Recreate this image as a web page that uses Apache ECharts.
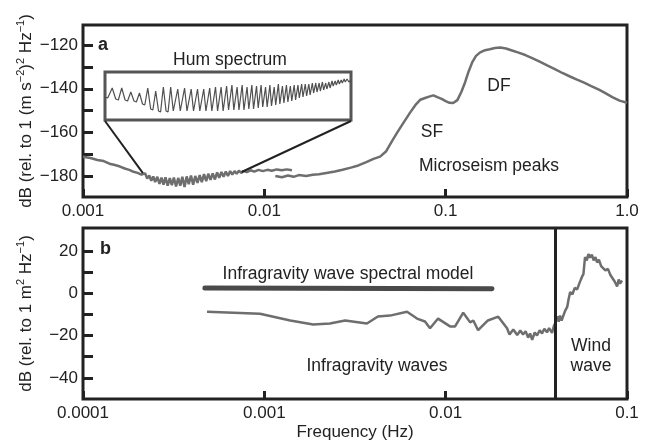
<!DOCTYPE html>
<html>
<head>
<meta charset="utf-8">
<script src="https://cdn.jsdelivr.net/npm/echarts@6/dist/echarts.min.js"></script>
<style>html,body{margin:0;padding:0;background:#fff;}#c{width:652px;height:442px;}</style>
</head>
<body>
<div id="c"></div>
<script>
// ---------- data ----------
const xLabelsA = ['0.001', '0.01', '0.1', '1.0'];
const xLabelsB = ['0.0001', '0.001', '0.01', '0.1'];
const yTicksA = [-180, -170, -160, -150, -140, -130, -120];
const yLabelsA = [-180, -160, -140, -120];
const yTicksB = [-40, -30, -20, -10, 0, 10, 20];
const yLabelsB = [-40, -20, 0, 20];

// panel a, trace 1 (long-period, 0.001 - 0.014 Hz)
const aTrace1Freq = [0.00100,0.00110,0.00120,0.00130,0.00140,0.00150,0.00160,0.00170,0.00180,0.00190,0.00200,0.00210,
  0.00220,0.00226,0.00232,0.00238,0.00244,0.00250,0.00257,0.00264,0.00271,0.00278,0.00285,0.00293,0.00301,0.00309,
  0.00317,0.00326,0.00335,0.00344,0.00353,0.00363,0.00373,0.00383,0.00394,0.00405,0.00416,0.00428,0.00440,0.00452,
  0.00465,0.00478,0.00491,0.00505,0.00519,0.00534,0.00549,0.00564,0.00580,0.00596,0.00613,0.00630,0.00648,0.00666,
  0.00685,0.00704,0.00724,0.00745,0.00770,0.00800,0.00840,0.00880,0.00930,0.00980,0.01040,0.01100,0.01170,0.01250,
  0.01330,0.01420];
const aTrace1Db = [-171.0,-171.6,-172.5,-173.0,-174.2,-174.8,-175.5,-176.4,-177.0,-177.9,-178.4,-179.2,
  -178.6,-181.0,-179.5,-182.0,-180.0,-182.6,-180.2,-183.4,-180.6,-183.8,-180.4,-184.2,-180.8,-184.0,
  -180.5,-184.6,-180.7,-184.2,-180.2,-184.8,-180.0,-183.6,-179.6,-183.8,-179.8,-183.0,-179.4,-182.6,
  -179.0,-182.2,-178.8,-181.6,-178.6,-181.4,-178.2,-180.6,-178.0,-180.2,-177.8,-179.8,-177.6,-179.2,
  -177.6,-178.8,-177.4,-178.4,-177.6,-178.0,-177.2,-177.8,-177.0,-177.6,-177.0,-177.4,-176.8,-177.2,
  -176.8,-177.2];

// panel a, trace 2 (0.0115 - 1 Hz, microseism peaks)
const aTrace2Freq = [0.0115,0.0125,0.0135,0.0145,0.0155,0.0170,0.0185,0.0200,0.0220,0.0245,0.0270,0.0300,0.0330,
  0.0365,0.0400,0.0435,0.0470,0.0505,0.0540,0.0580,0.0635,0.0680,0.0725,0.0770,0.0810,0.0855,0.0900,0.0950,0.1000,
  0.1050,0.1100,0.1160,0.1220,0.1280,0.1340,0.1400,0.1470,0.1550,0.1650,0.1750,0.1870,0.2000,0.2150,0.2300,0.2500,
  0.2750,0.3000,0.3300,0.3650,0.4000,0.4400,0.4850,0.5300,0.5800,0.6350,0.7000,0.7600,0.8300,0.9100,1.0000];
const aTrace2Db = [-179.8,-180.4,-179.6,-180.2,-179.4,-179.8,-179.2,-179.0,-178.4,-177.8,-177.0,-176.0,-175.0,
  -173.5,-172.0,-171.0,-168.5,-164.0,-160.0,-156.0,-151.0,-147.5,-145.0,-144.2,-143.6,-143.0,-143.8,-144.6,-145.6,
  -146.4,-146.5,-145.2,-141.5,-137.0,-132.0,-128.0,-125.0,-123.4,-122.4,-122.0,-121.4,-121.2,-121.6,-122.4,-123.4,
  -124.6,-126.0,-127.6,-129.4,-131.0,-132.8,-134.4,-135.8,-137.2,-138.8,-140.4,-142.0,-143.8,-145.4,-146.4];

// inset: hum spectrum (frequency in mHz, relative level)
const humFreq = [2.10,2.13,
  2.18,2.22,2.25, 2.29,2.33,2.36, 2.40,2.44,2.47, 2.51,2.55,2.58, 2.62,2.66,2.69, 2.73,2.77,2.80,
  2.84,2.88,2.91, 2.95,2.99,3.02, 3.06,3.10,3.13, 3.17,3.21,3.24, 3.28,3.32,3.35, 3.39,3.43,3.46,
  3.50,3.54,3.57, 3.61,3.65,3.68, 3.72,3.76,3.79, 3.83,3.87,3.90, 3.94,3.98,4.01, 4.05,4.09,4.12,
  4.16,4.20,4.23, 4.27,4.31,4.34, 4.38,4.42,4.45, 4.49,4.53,4.56, 4.60,4.64,4.67, 4.71,4.75,4.78,
  4.82,4.86,4.89, 4.93,4.97,5.00, 5.04,5.08,5.11, 5.15,5.19,5.22, 5.26,5.30,5.33, 5.37,5.41,5.44,
  5.48,5.52,5.55, 5.59,5.63,5.66, 5.70,5.74,5.77, 5.81,5.85,5.88, 5.92,5.96,5.99, 6.03,6.07,6.10,
  6.14,6.18,6.21, 6.25,6.29,6.32, 6.36,6.40,6.43, 6.47,6.51,6.54, 6.58,6.62,6.65, 6.69,6.73,6.76,
  6.80,6.84,6.87, 6.91,6.95,6.98, 7.02,7.06,7.09, 7.13,7.17,7.20, 7.24,7.28,7.31, 7.35,7.39,7.42,
  7.50];
const humLevel = [23,22,
  32,21,20, 32,20,19, 28,19,18, 27,16,15, 32,11,10, 29,9,8,
  33,9,8, 33,9,8, 31,9,8, 32,9,8, 31,9,8, 31,9,8,
  31,9,8, 32,9,8, 33,9,8, 33,9,8, 34,10,9, 35,10,9,
  33,10,9, 35,10,9, 33,11,10, 35,11,10, 34,12,11, 35,13,12,
  33,13,12, 35,14,13, 33,15,14, 36,16,15, 34,17,16, 35,18,17,
  34,19,18, 35,20,19, 35,22,21, 36,23,22, 36,24,23, 36,25,24,
  37,27,26, 37,28,27, 37,29,28, 38,30,29, 37,31,30, 38,32,31,
  39,34,33, 39,35,34, 40,36,35, 40,37,36, 41,38,37, 41,39,38,
  40];
const humRange = [2.1, 7.5];
const connectFreq = [0.00214, 0.0075];
const connectDb = [-178.5, -178.0];

// panel b
const bModelFreq = [0.00047, 0.018];
const bModelDb = [2.4, 2.1];
const bDataFreq = [0.000483,0.000946,0.00139,0.00186,0.0023,0.00279,0.00368,0.00423,0.00493,0.00612,0.00695,0.00769,
  0.0082,0.00908,0.01057,0.01127,0.0125,0.01365,0.0142,0.0151,0.0171,0.0195,0.0218,0.0225,0.0236,0.0248,0.0258,
  0.0267,0.0276,0.0285,0.0292,0.0300,0.0310,0.0319,0.0330,0.0340,0.0350,0.0362,0.0372,0.0386,0.0395,
  0.0401,0.0412,0.0420,0.0427,0.0436,0.0444,0.0455,0.0468,0.0476,0.0486,0.0500,0.0515,0.0531,0.0548,0.0565,0.0575,
  0.0587,0.0600,0.0613,0.0626,0.0640,0.0655,0.0670,0.0684,0.0700,0.0720,0.0738,0.0760,0.0785,0.0810,0.0828,0.0855,
  0.0882,0.0900,0.0915,0.0939];
const bDataDb = [-8.8,-9.7,-12.9,-14.8,-14.3,-12.9,-14.3,-11.0,-10.6,-8.8,-12.0,-13.4,
  -16.6,-12.0,-15.7,-15.7,-9.2,-13.8,-12.9,-17.5,-12.9,-11.1,-16.6,-19.5,-17.2,-19.8,-17.6,
  -19.5,-18.0,-21.0,-19.0,-22.0,-18.6,-20.0,-17.5,-19.0,-16.8,-18.5,-16.5,-18.8,-15.5,
  -14.3,-11.0,-13.5,-10.6,-13.0,-11.0,-8.5,-6.5,-3.0,0.5,-0.5,2.5,1.8,5.0,7.8,9.0,
  17.0,15.5,18.5,16.8,18.2,15.5,17.0,14.5,15.8,12.8,13.5,10.8,11.5,8.6,9.2,5.5,
  3.2,6.5,4.5,6.0];
const windBoundary = 0.04;

// ---------- chart ----------
const FF = "'Liberation Sans', Arial, Helvetica, sans-serif";
const INK = '#222';
const zip = (a, b) => a.map((v, i) => [v, b[i]]);
const minus = v => String(v).replace('-', '\u2212');
const decIdx = (v, base) => Math.round(Math.log10(v)) - base;

const richName = {
  n: { fontSize: 17, fontFamily: FF, color: INK, lineHeight: 22 },
  s: { fontSize: 11, fontFamily: FF, color: INK, lineHeight: 13, verticalAlign: 'top' }
};
const nameA = '{n|dB (rel. to 1 (m s}{s|\u22122}{n|)}{s|2}{n| Hz}{s|\u22121}{n|)}';
const nameB = '{n|dB (rel. to 1 m}{s|2}{n| Hz}{s|\u22121}{n|)}';

const tickStyle = { width: 3, color: INK };
const labelBase = { fontSize: 17, fontFamily: FF, color: INK };
const noLine = { show: false, onZero: false };

const chart = echarts.init(document.getElementById('c'), null, { renderer: 'canvas' });
const option = {
  animation: false,
  backgroundColor: '#fff',
  grid: [
    { left: 83, top: 25, width: 544, height: 172, show: true, borderColor: INK, borderWidth: 3, backgroundColor: 'transparent' },
    { left: 83, top: 228, width: 544, height: 175, show: true, borderColor: INK, borderWidth: 3, backgroundColor: 'transparent' },
    { left: 105, top: 72, width: 246, height: 48, show: true, borderColor: '#555', borderWidth: 3, backgroundColor: '#fff' }
  ],
  xAxis: [
    { type: 'log', logBase: 10, gridIndex: 0, min: 0.001, max: 1,
      axisLine: noLine, splitLine: { show: false },
      axisTick: { inside: true, length: 8, lineStyle: tickStyle },
      axisLabel: Object.assign({ margin: 6, formatter: v => xLabelsA[decIdx(v, -3)] }, labelBase) },
    { type: 'log', logBase: 10, gridIndex: 1, min: 0.0001, max: 0.1,
      axisLine: noLine, splitLine: { show: false },
      axisTick: { inside: true, length: 8, lineStyle: tickStyle },
      axisLabel: Object.assign({ margin: 6, formatter: v => xLabelsB[decIdx(v, -4)] }, labelBase),
      name: 'Frequency (Hz)', nameLocation: 'middle', nameGap: 25, nameMoveOverlap: false,
      nameTextStyle: { fontSize: 17, fontFamily: FF, color: INK } },
    { type: 'log', logBase: 10, gridIndex: 2, min: humRange[0], max: humRange[1], show: false }
  ],
  yAxis: [
    { type: 'value', gridIndex: 0, min: -189.4, max: -110.9,
      axisLine: noLine, splitLine: { show: false },
      axisTick: { inside: true, length: 10, lineStyle: tickStyle, customValues: yTicksA },
      axisLabel: Object.assign({ margin: 5, customValues: yLabelsA, formatter: minus }, labelBase),
      name: nameA, nameLocation: 'middle', nameRotate: 90, nameGap: 46, nameMoveOverlap: false,
      nameTextStyle: { rich: richName } },
    { type: 'value', gridIndex: 1, min: -50, max: 30.8,
      axisLine: noLine, splitLine: { show: false },
      axisTick: { inside: true, length: 10, lineStyle: tickStyle, customValues: yTicksB },
      axisLabel: Object.assign({ margin: 5, customValues: yLabelsB, formatter: minus }, labelBase),
      name: nameB, nameLocation: 'middle', nameRotate: 90, nameGap: 46, nameMoveOverlap: false,
      nameTextStyle: { rich: richName } },
    { type: 'value', gridIndex: 2, min: 0, max: 48, show: false }
  ],
  series: [
    { type: 'line', xAxisIndex: 0, yAxisIndex: 0, data: zip(aTrace1Freq, aTrace1Db), showSymbol: false,
      lineStyle: { color: '#6e6e6e', width: 2.5 } },
    { type: 'line', xAxisIndex: 0, yAxisIndex: 0, data: zip(aTrace2Freq, aTrace2Db), showSymbol: false,
      lineStyle: { color: '#6e6e6e', width: 2.5 } },
    { type: 'line', xAxisIndex: 2, yAxisIndex: 2, data: zip(humFreq, humLevel), showSymbol: false,
      lineStyle: { color: '#505050', width: 1.2 } },
    { type: 'line', xAxisIndex: 1, yAxisIndex: 1, data: zip(bModelFreq, bModelDb), showSymbol: false,
      lineStyle: { color: '#4a4a4a', width: 5, cap: 'round' } },
    { type: 'line', xAxisIndex: 1, yAxisIndex: 1, data: zip(bDataFreq, bDataDb), showSymbol: false,
      lineStyle: { color: '#6e6e6e', width: 2.5 },
      markLine: { silent: true, symbol: ['none', 'none'], label: { show: false },
        lineStyle: { color: INK, width: 3, type: 'solid' },
        data: [{ xAxis: windBoundary }] } }
  ]
};
chart.setOption(option);

function txt(text, x, y, opts) {
  const o = opts || {};
  return { type: 'text', x: x, y: y, z: 100,
    style: { text: text, fill: INK, font: (o.bold ? 'bold ' : '') + (o.size || 17.5) + 'px ' + FF,
      align: o.align || 'center', verticalAlign: 'middle',
      textAlign: o.align || 'center', textVerticalAlign: 'middle' } };
}
const g = [];
// connectors from inset to main curve
const insetBL = chart.convertToPixel({ gridIndex: 2 }, [humRange[0], 0]);
const insetBR = chart.convertToPixel({ gridIndex: 2 }, [humRange[1], 0]);
const pL = chart.convertToPixel({ gridIndex: 0 }, [connectFreq[0], connectDb[0]]);
const pR = chart.convertToPixel({ gridIndex: 0 }, [connectFreq[1], connectDb[1]]);
g.push({ type: 'line', z: 90, shape: { x1: insetBL[0], y1: insetBL[1] + 1, x2: pL[0], y2: pL[1] }, style: { stroke: INK, lineWidth: 2 } });
g.push({ type: 'line', z: 90, shape: { x1: insetBR[0], y1: insetBR[1] + 1, x2: pR[0], y2: pR[1] }, style: { stroke: INK, lineWidth: 2 } });
g.push(txt('a', 98, 45, { bold: true, size: 18, align: 'left' }));
g.push(txt('b', 100, 249, { bold: true, size: 18, align: 'left' }));
g.push(txt('Hum spectrum', 230, 60));
g.push(txt('DF', 499, 86));
g.push(txt('SF', 432, 132));
g.push(txt('Microseism peaks', 489, 166));
g.push(txt('Infragravity wave spectral model', 348, 274));
g.push(txt('Infragravity waves', 377, 366));
g.push(txt('Wind', 591, 346));
g.push(txt('wave', 591, 366));
chart.setOption({ graphic: g });
</script>
</body>
</html>
